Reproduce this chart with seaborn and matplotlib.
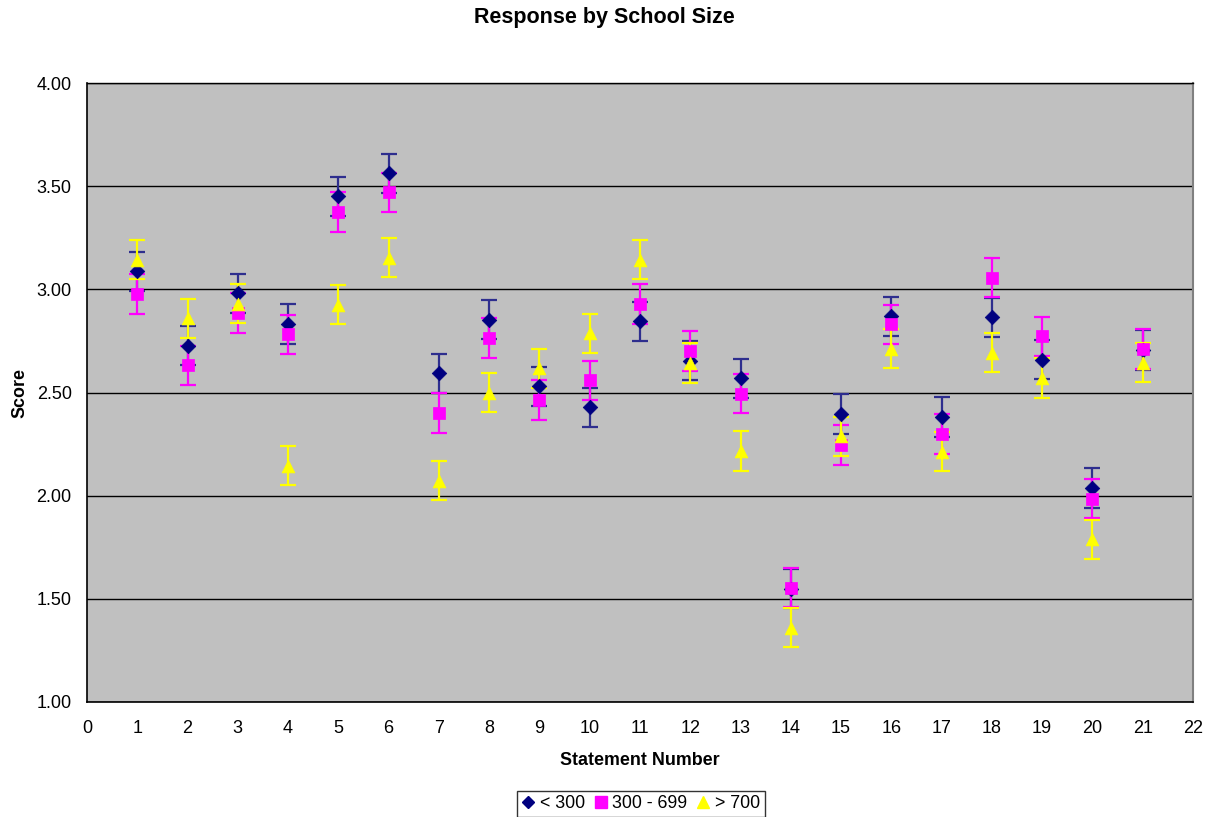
import matplotlib
matplotlib.use("Agg")
import matplotlib.pyplot as plt
from matplotlib.lines import Line2D
import numpy as np
import pandas as pd
import seaborn as sns

# Mean score per statement, by school enrolment band
statements = list(range(1, 22))
under_300 = [3.087, 2.727, 2.981, 2.832, 3.451, 3.562, 2.593, 2.853, 2.530, 2.428, 2.845,
             2.654, 2.569, 1.550, 2.396, 2.870, 2.381, 2.864, 2.659, 2.037, 2.706]
mid_300_699 = [2.977, 2.632, 2.885, 2.783, 3.375, 3.470, 2.401, 2.764, 2.464, 2.559, 2.929,
               2.701, 2.494, 1.554, 2.246, 2.831, 2.299, 3.056, 2.772, 1.985, 2.711]
over_700 = [3.144, 2.859, 2.930, 2.145, 2.925, 3.153, 2.073, 2.500, 2.617, 2.787, 3.143,
            2.643, 2.216, 1.360, 2.288, 2.712, 2.214, 2.693, 2.570, 1.788, 2.644]
error_half = 0.095

group_names = ["< 300", "300 - 699", "> 700"]
x_ticks = list(range(0, 23))
y_ticks = [1.0, 1.5, 2.0, 2.5, 3.0, 3.5, 4.0]

df = pd.concat([
    pd.DataFrame({"Statement": statements, "Score": vals, "Group": name})
    for name, vals in zip(group_names, [under_300, mid_300_699, over_700])
], ignore_index=True)

colors = {"< 300": "#000080", "300 - 699": "#FF00FF", "> 700": "#FFFF00"}
bar_colors = {"< 300": "#2E2E8E", "300 - 699": "#FF00FF", "> 700": "#FFFF00"}
markers = {"< 300": "D", "300 - 699": "s", "> 700": "^"}
sizes = {"< 300": 55, "300 - 699": 85, "> 700": 85}

sns.set_theme(style="white")
plt.rcParams["font.family"] = ["Liberation Sans", "DejaVu Sans"]
for key in ["text.color", "axes.labelcolor", "xtick.color", "ytick.color"]:
    plt.rcParams[key] = "black"

fig = plt.figure(figsize=(12.09, 8.17), dpi=100)
ax = fig.add_axes([87 / 1209, 1 - 702 / 817, (1193 - 87) / 1209, (702 - 83) / 817])
ax.set_facecolor("#C0C0C0")

# error bars first, markers on top
for name in group_names:
    sub = df[df["Group"] == name]
    ax.errorbar(sub["Statement"], sub["Score"], yerr=error_half, fmt="none",
                ecolor=bar_colors[name], elinewidth=1.6, capsize=6, capthick=1.6, zorder=2)

for name in group_names:
    sub = df[df["Group"] == name]
    sns.scatterplot(data=sub, x="Statement", y="Score", marker=markers[name],
                    color=colors[name], s=sizes[name], edgecolor=colors[name],
                    linewidth=0.5, ax=ax, zorder=3, legend=False)

ax.set_xlim(0, 22)
ax.set_ylim(1.0, 4.0)
ax.set_xticks(x_ticks)
ax.set_xticklabels([str(t) for t in x_ticks], fontsize=13)
ax.set_yticks(y_ticks)
ax.set_yticklabels([f"{t:.2f}" for t in y_ticks], fontsize=13)
ax.yaxis.grid(True, color="black", linewidth=1.0)
ax.xaxis.grid(False)
ax.set_axisbelow(True)
ax.tick_params(axis="both", direction="out", length=5, width=1, color="#444444")
ax.tick_params(axis="y", pad=6, labelcolor="black")
ax.tick_params(axis="x", pad=8, labelcolor="black")

for side in ["left", "bottom"]:
    ax.spines[side].set_color("black")
    ax.spines[side].set_linewidth(1.2)
ax.spines["top"].set_color("black")
ax.spines["top"].set_linewidth(1.0)
ax.spines["right"].set_color("#808080")
ax.spines["right"].set_linewidth(1.5)

ax.set_xlabel("Statement Number", fontsize=12.9, fontweight="bold", labelpad=11)
ax.set_ylabel("Score", fontsize=12.9, fontweight="bold", labelpad=6)
fig.text(604 / 1209, 1 - 18 / 817, "Response by School Size", ha="center", va="center",
         fontsize=15.5, fontweight="bold")

handles = [Line2D([0], [0], linestyle="none", marker=markers[n], markersize=ms,
                  markerfacecolor=colors[n], markeredgecolor=colors[n])
           for n, ms in zip(group_names, [6, 8.5, 8.5])]
leg = fig.legend(handles, group_names, loc="center", bbox_to_anchor=(641 / 1209, 1 - 804 / 817),
                 ncol=3, fontsize=12.8, frameon=True, fancybox=False, handlelength=0.7,
                 handletextpad=0.3, columnspacing=0.55, borderpad=0.25, borderaxespad=0)
leg.get_frame().set_edgecolor("black")
leg.get_frame().set_linewidth(1.0)

fig.savefig("out.png", dpi=100, facecolor="white")
